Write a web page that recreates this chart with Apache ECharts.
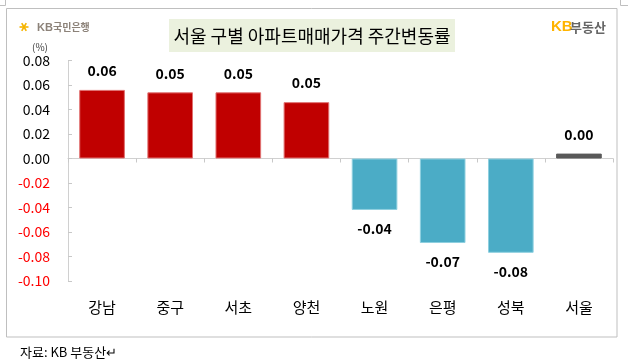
<!DOCTYPE html>
<html><head><meta charset="utf-8">
<script src="https://cdn.jsdelivr.net/npm/echarts@6/dist/echarts.min.js"></script>
<style>html,body{margin:0;padding:0;background:#fff;}#c{width:628px;height:363px;}</style>
</head><body><div id="c"></div>
<script>
var categories = ['강남','중구','서초','양천','노원','은평','성북','서울'];
var values = [0.056, 0.054, 0.054, 0.046, -0.042, -0.069, -0.077, 0.004];
var yTicks = [-0.10,-0.08,-0.06,-0.04,-0.02,0.00,0.02,0.04,0.06,0.08];
var titleText = '서울 구별 아파트매매가격 주간변동률';
var sourceText = '자료: KB 부동산↵';

var KR = '"Noto Sans CJK KR", "Noto Sans", sans-serif';
var chart = echarts.init(document.getElementById('c'), null, {renderer:'canvas'});

var data = values.map(function(v, i){
  var last = i === values.length - 1;
  var color = last ? '#595959' : (v >= 0 ? '#C00000' : '#4BACC6');
  var border = last ? '#595959' : (v >= 0 ? '#E07070' : '#8FD0E0');
  return {
    value: v,
    itemStyle: {color: color, borderColor: border, borderWidth: 1},
    label: {position: v >= 0 ? 'top' : 'bottom'}
  };
});

var spokes = [];
for (var k = 0; k < 6; k++) {
  var a = Math.PI * k / 3;
  spokes.push({type:'line', shape:{x1:24, y1:27, x2:24+4.5*Math.cos(a), y2:27+4.5*Math.sin(a)}, style:{stroke:'#F5B400', lineWidth:1.6}});
}

chart.setOption({
  animation: false,
  grid: {left: 68, right: 15, top: 60.5, bottom: 82},
  xAxis: {
    type: 'category',
    data: categories,
    axisLine: {onZero: true, lineStyle: {color: '#D0D0D0', width: 1}},
    axisTick: {show: true, length: 4, lineStyle: {color: '#C8C8C8'}},
    axisLabel: {show: false}
  },
  yAxis: {
    type: 'value',
    min: -0.10, max: 0.08, interval: 0.02,
    splitLine: {show: false},
    axisLine: {show: true, lineStyle: {color: '#D0D0D0'}},
    axisTick: {show: true, inside: true, length: 4, lineStyle: {color: '#C8C8C8'}},
    axisLabel: {
      margin: 18,
      fontFamily: KR, fontSize: 14,
      formatter: function(v){ return v.toFixed(2); },
      color: function(v){ return v < -1e-9 ? '#FF0000' : '#000000'; }
    }
  },
  series: [
    {
      type: 'bar',
      data: data,
      barWidth: '67%',
      label: {
        show: true,
        distance: 12,
        fontFamily: KR, fontSize: 14, fontWeight: 'bold', color: '#000',
        formatter: function(p){ return p.value.toFixed(2); }
      }
    }
  ],
  graphic: [
    {type:'rect', shape:{x:6.5, y:8.5, width:610.5, height:328.5}, style:{fill:'none', stroke:'#BFBFBF', lineWidth:1}, z:-1},
    {type:'polyline', shape:{points:[[5.5,0],[5.5,5.5],[0,5.5]]}, style:{stroke:'#BFBFBF', fill:null, lineWidth:1}},
    {type:'polyline', shape:{points:[[620.5,0],[620.5,5.5],[628,5.5]]}, style:{stroke:'#BFBFBF', fill:null, lineWidth:1}},
    {type:'rect', shape:{x:169, y:19, width:286, height:33}, style:{fill:'#EBF1DE'}},
    {type:'text', x:312, y:36, style:{text: titleText, font:'18px ' + KR, fill:'#000', textAlign:'center', textVerticalAlign:'middle'}},
    {type:'group', children: spokes},
    {type:'text', x:37, y:27.5, style:{text:'KB', font:'bold 11px "Liberation Sans", sans-serif', fill:'#8C8279', textVerticalAlign:'middle'}},
    {type:'text', x:53, y:27.5, style:{text:'국민은행', font:'bold 10px ' + KR, fill:'#8C8279', textVerticalAlign:'middle'}},
    {type:'text', x:551, y:27, style:{text:'KB', font:'bold 15px "Liberation Sans", sans-serif', fill:'#FFB400', textVerticalAlign:'middle'}},
    {type:'text', x:570, y:27, style:{text:'부동산', font:'bold 13px ' + KR, fill:'#666666', textVerticalAlign:'middle'}},
    {type:'text', x:40, y:47, style:{text:'(%)', font:'10px ' + KR, fill:'#404040', textAlign:'center', textVerticalAlign:'middle'}},
    {type:'text', x:20, y:352, style:{text: sourceText, font:'13px ' + KR, fill:'#000', textVerticalAlign:'middle'}}
  ].concat(categories.map(function(c, i){
    return {type:'text', x: 68 + (613-68)/categories.length*(i+0.5), y:307,
      style:{text:c, font:'15px ' + KR, fill:'#000', textAlign:'center', textVerticalAlign:'middle'}};
  }))
});
</script></body></html>
